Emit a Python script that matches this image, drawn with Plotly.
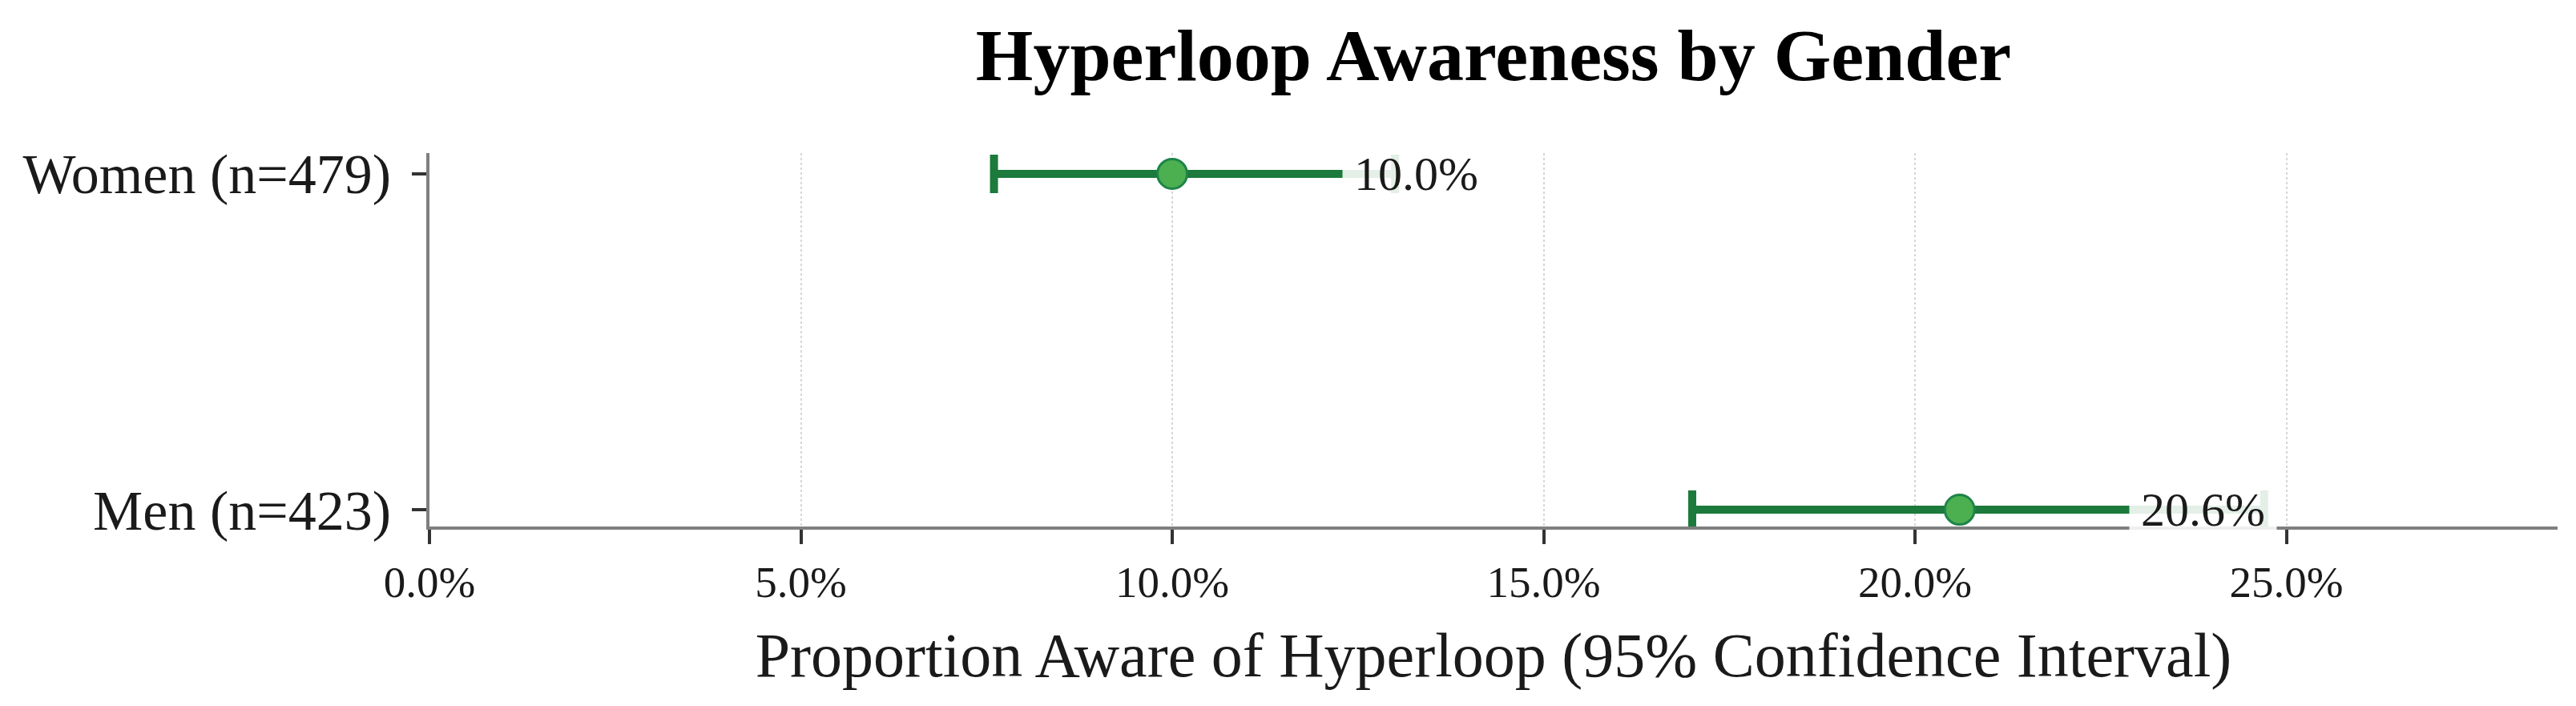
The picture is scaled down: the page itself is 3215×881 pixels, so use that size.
import plotly.graph_objects as go

# Data (percent)
categories = ["Men (n=423)", "Women (n=479)"]
proportions = [20.6, 10.0]
ci_lower = [17.0, 7.6]
ci_upper = [24.7, 13.0]
label_offset = 2.5
x_ticks = [0, 5, 10, 15, 20, 25]

FONT = "Liberation Serif"
BAR_GREEN = "#1b7a3c"
FILL_GREEN = "#4caf50"

y_pos = list(range(len(categories)))

fig = go.Figure()
fig.add_trace(go.Scatter(
    x=proportions,
    y=y_pos,
    mode="markers",
    marker=dict(size=37, color=FILL_GREEN, line=dict(color="#1e8449", width=3)),
    error_x=dict(
        type="data",
        symmetric=False,
        array=[u - p for u, p in zip(ci_upper, proportions)],
        arrayminus=[p - l for p, l in zip(proportions, ci_lower)],
        color=BAR_GREEN,
        thickness=10,
        width=24,
    ),
    showlegend=False,
    hoverinfo="x+y",
))

for p, yy in zip(proportions, y_pos):
    fig.add_annotation(
        x=p + label_offset, y=yy, xref="x", yref="y",
        text=f"{p:.1f}%",
        showarrow=False,
        xanchor="left", yanchor="middle",
        xshift=-20,
        font=dict(family=FONT, size=60, color="#1a1a1a"),
        bgcolor="rgba(255,255,255,0.88)",
        borderpad=14,
    )

fig.update_layout(
    width=3215, height=881,
    margin=dict(l=528, r=31, t=183, b=232),
    paper_bgcolor="white",
    plot_bgcolor="white",
    title=dict(
        text="<b>Hyperloop Awareness by Gender</b>",
        x=0.5, xref="paper", xanchor="center",
        y=1 - 60 / 881, yref="container", yanchor="middle",
        font=dict(family=FONT, size=92, color="black"),
    ),
    font=dict(family=FONT, color="black"),
)

fig.update_xaxes(
    range=[0, 28.65],
    tickvals=x_ticks,
    ticktext=[f"{v:.1f}%" for v in x_ticks],
    showgrid=True, gridcolor="#d6d6d6", gridwidth=2, griddash="dot",
    zeroline=False,
    showline=True, linecolor="#7f7f7f", linewidth=4,
    ticks="outside", ticklen=18, tickwidth=4, tickcolor="#333333",
    tickfont=dict(family=FONT, size=55, color="#1a1a1a"),
    title=dict(text="Proportion Aware of Hyperloop (95% Confidence Interval)",
               font=dict(family=FONT, size=78, color="#1a1a1a"), standoff=34),
)
fig.update_yaxes(
    range=[-0.05, 1.062],
    tickvals=y_pos,
    ticktext=categories,
    showgrid=False,
    zeroline=False,
    showline=True, linecolor="#7f7f7f", linewidth=4,
    ticks="outside", ticklen=18, tickwidth=4, tickcolor="#333333",
    ticklabelstandoff=12,
    tickfont=dict(family=FONT, size=70, color="#1a1a1a"),
)

fig.write_html("out.html")
